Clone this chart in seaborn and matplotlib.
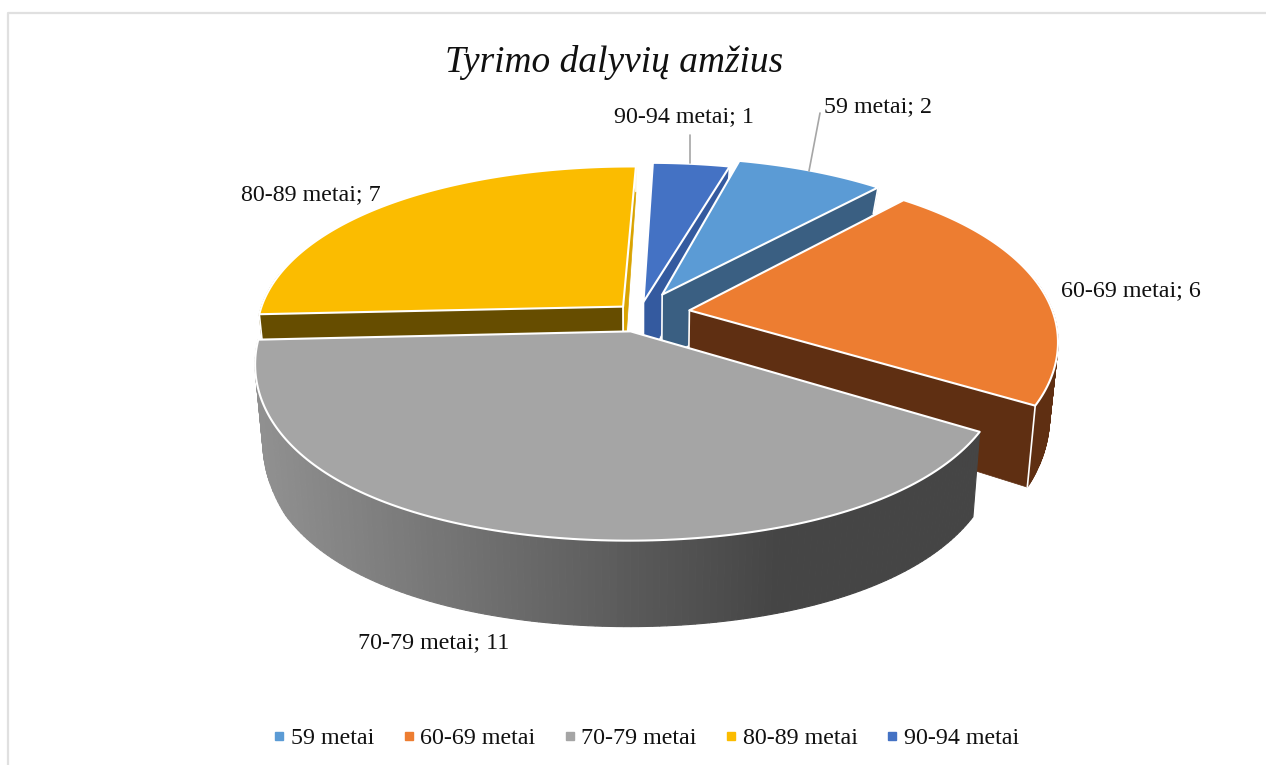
import numpy as np
import pandas as pd
import matplotlib
matplotlib.use("Agg")
import matplotlib.pyplot as plt
from matplotlib.lines import Line2D
import seaborn as sns

title = "Tyrimo dalyvių amžius"
groups = ["59 metai", "60-69 metai", "70-79 metai", "80-89 metai", "90-94 metai"]
counts = [2, 6, 11, 7, 1]

top_colors = ["#5b9bd5", "#ed7d31", "#a5a5a5", "#fbbc00", "#4472c4"]
wall_colors = ["#3a5f82", "#5f2f12", "#454545", "#664d00", "#345a9f"]
explode = [0.135, 0.138, 0.105, 0.065, 0.075]
# far tip of a slice leans right by this many pixels
lean = [-2, -3, 0, 7, 5]

# pixel layout of the labels, same order as groups
label_pos = [(824, 107), (1061, 291), (358, 643), (241, 195), (614, 117)]

df = pd.DataFrame({"group": groups, "count": counts})
df["share"] = df["count"] / df["count"].sum() * 360
df["end"] = 14 + df["share"].cumsum()
df["start"] = df["end"] - df["share"]

sns.set_theme(style="white")
plt.rcParams["font.family"] = ["Liberation Serif", "DejaVu Serif"]
palette = sns.color_palette(top_colors)

# projection of the tilted disc, smooth perspective
cx, cy = 640, 314
a, b = 364, 165


def project(u, v, tip=0):
    sx = 1 + 0.15 * v + 0.07 * v ** 2
    sy = 1 + 0.18 * v + 0.04 * v ** 2
    if v > 0:
        sy += 0.14 * v * (1.1 - v)
    else:
        u_shift = tip * v ** 2
        return cx + a * u * sx + u_shift, cy + b * v * sy
    return cx + a * u * sx, cy + b * v * sy


def drop(px, py):
    # bottom rim, wall height grows toward the viewer
    h = np.interp(py, [168, 187, 270, 410, 430, 541], [25, 26, 66, 82, 85, 86])
    return px - (px - 640) * 0.02, py + h


def gray_wall(px):
    t = np.clip((px - 260) / 520, 0, 1)
    return str(0.565 - t * 0.295)


fig = plt.figure(figsize=(12.66, 7.65), dpi=100)
ax = fig.add_axes([0, 0, 1, 1])
ax.set_xlim(0, 1266)
ax.set_ylim(765, 0)
ax.axis("off")

# chart frame
ax.plot([8, 8, 1266], [765, 13, 13], color="#e0e0e0", lw=1.6)

# painted back to front
z = 3
for i in [3, 4, 0, 1, 2]:
    row = df.iloc[i]
    t0, t1 = np.radians(row["start"]), np.radians(row["end"])
    mid = (t0 + t1) / 2
    ex, ey = explode[i] * np.sin(mid), -explode[i] * np.cos(mid)
    th = np.linspace(t0, t1, 160)
    apex = np.array(project(ex, ey, lean[i]))
    arc = np.array([project(ex + np.sin(t), ey - np.cos(t), lean[i]) for t in th])

    # outer wall
    for j in range(len(th) - 1):
        if np.cos(th[j]) > 0.2:
            continue
        p, q = arc[j], arc[j + 1]
        p2, q2 = drop(*p), drop(*q)
        c = gray_wall(p[0]) if i == 2 else wall_colors[i]
        ax.fill([p[0], q[0], q2[0], p2[0]], [p[1], q[1], q2[1], p2[1]], color=c, lw=0.8, zorder=z)
    z += 1

    # radial faces, only the ones looking down at the viewer
    for corner in [arc[0], arc[-1]]:
        e = corner - apex
        m = arc[80] - apex
        cross = e[0] * m[1] - e[1] * m[0]
        if (cross > 0 and e[0] > 0) or (cross < 0 and e[0] < 0):
            continue
        shade = "#d9a300" if (i == 3 and e[1] < -100) else wall_colors[i]
        bx, by = drop(*corner)
        ax_, ay_ = drop(*apex)
        ax.fill([apex[0], corner[0], bx, ax_], [apex[1], corner[1], by, ay_], color=shade, lw=0.5, zorder=z)
        ax.plot([corner[0], bx], [corner[1], by], color="white", lw=1.2, zorder=z)
        ax.plot([apex[0], ax_], [apex[1], ay_], color="white", lw=1.2, zorder=z)
        z += 1

    # top
    xs = np.r_[apex[0], arc[:, 0]]
    ys = np.r_[apex[1], arc[:, 1]]
    ax.fill(xs, ys, facecolor=palette[i], edgecolor="white", lw=1.5, joinstyle="round", zorder=z)
    z += 1

# leader lines
ax.plot([690, 690], [135, 163], color="#a6a6a6", lw=1.2, zorder=z)
ax.plot([820, 809], [113, 171], color="#a6a6a6", lw=1.2, zorder=z)

for g, n, (x, y) in zip(groups, counts, label_pos):
    ax.text(x, y, f"{g}; {n}", fontsize=17.3, color="#111111", ha="left", va="center")

ax.text(614, 62, title, fontsize=26.9, style="italic", color="#111111", ha="center", va="center")

handles = [Line2D([], [], ls="", marker="s", ms=5.5, color=palette[i]) for i in range(5)]
ax.legend(handles, groups, ncol=5, frameon=False, fontsize=17.3, loc="center",
          bbox_to_anchor=(646 / 1266, 1 - 738 / 765), handlelength=0.5, handletextpad=0.22,
          columnspacing=1.2, labelcolor="#111111", borderpad=0)

fig.savefig("out.png", dpi=100)
